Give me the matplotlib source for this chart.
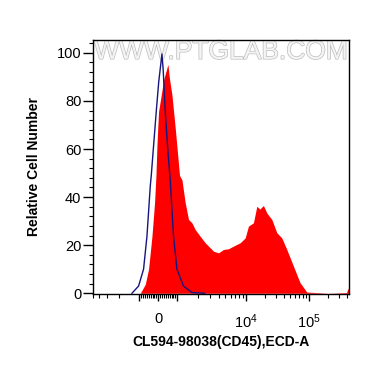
import numpy as np
import matplotlib
matplotlib.use("Agg")
import matplotlib.pyplot as plt
from matplotlib import patheffects

plt.rcParams['font.family'] = ['Liberation Sans', 'DejaVu Sans']
plt.rcParams['mathtext.default'] = 'regular'

# control (isotype) histogram, blue line
ctrl_x = [-1285, -1024, -774, -595, -421, -368, -105, 26, 195, 260, 368, 500,
          632, 805, 984, 1234, 1633, 2500]
ctrl_y = [0, 3, 10, 23.7, 44.5, 49, 75.6, 88, 99.5, 93, 75.6, 60,
          47, 23.7, 10, 3, 0.3, 0]

# CD45 stained sample, red fill
samp_x = [-5000, -947, -684, -511, -332, -195, -121, -68, 16, 158, 289, 511, 579, 721,
          895, 1080, 1170, 1306, 1458, 1633, 1823, 2154, 2546, 3183, 3360, 3970,
          4690, 5540, 6540, 8190, 9680, 10880, 13060, 14790, 16500, 18820, 21310,
          25580, 30700, 36900, 44300, 56400, 71900, 91900, 200000, 395000, 415000,
          430000]
samp_y = [0, 0, 3.7, 10, 23.7, 37.6, 49, 61.7, 75.6, 82.5, 89, 95.2, 90, 82.5,
          68.7, 49, 47.2, 37.6, 30.7, 29.3, 26.5, 23.7, 21, 18.2, 17.5, 16.8,
          18.2, 18.5, 19.6, 21, 23, 27.9, 29.3, 36.2, 35, 36.5, 33.4,
          30.7, 25.2, 23, 18.2, 11.3, 4.4, 0.5, 0, 0.3, 2, 1.5]


# biexponential-like display transform (linear around zero, log above 10^3)
def biex_fwd(x):
    x = np.asarray(x, dtype=float)
    a = np.maximum(np.abs(x), 1000.0)
    lg = np.log10(a / 1000.0)
    pos = 19 + 69 * np.minimum(lg, 1) + 63 * np.maximum(lg - 1, 0)
    neg = -(19 + 67 * lg)
    return np.where(np.abs(x) <= 1000, x * 0.019, np.where(x > 0, pos, neg))


def biex_inv(p):
    p = np.clip(np.asarray(p, dtype=float), -300, 300)
    up = np.where(p <= 88, 1000 * 10 ** ((p - 19) / 69), 1e4 * 10 ** ((p - 88) / 63))
    dn = -1000 * 10 ** ((-p - 19) / 67)
    return np.where(np.abs(p) <= 19, p / 0.019, np.where(p > 0, up, dn))


fig = plt.figure(figsize=(3.7, 3.67), dpi=100)
ax = fig.add_axes([0.25, 0.199, 0.693, 0.693])
ax.set_xscale('function', functions=(biex_fwd, biex_inv))

ax.fill_between(samp_x, samp_y, 0, color='#ff0000', lw=0, zorder=2)
ax.plot(ctrl_x, ctrl_y, color='#16167e', lw=1.0, zorder=3)

ax.text(0.5, 0.952, 'WWW.PTGLAB.COM', transform=ax.transAxes, ha='center',
        va='center', fontsize=19, color='#f4f4f4', zorder=1,
        path_effects=[patheffects.withStroke(linewidth=1.0, foreground='#bdbdbd')])

ax.set_xlim(-5000, 430000)
ax.set_ylim(-0.3, 105.5)

ax.set_xticks([-1000, 0, 1000, 1e4, 1e5])
ax.set_xticklabels(['', '0', '', '$10^4$', '$10^5$'])
minor_x = ([-k * 1000 for k in range(2, 6)] + [k * 100 for k in range(-9, 10) if k != 0]
           + [k * 1000 for k in range(2, 10)] + [k * 10000 for k in range(2, 10)]
           + [k * 100000 for k in range(2, 5)])
ax.set_xticks(minor_x, minor=True)

ax.set_yticks([0, 20, 40, 60, 80, 100])
ax.set_yticks(np.arange(0, 105, 4), minor=True)

ax.tick_params(axis='both', which='major', labelsize=10.5, color='black', width=1)
ax.tick_params(axis='x', which='major', length=5, pad=8)
ax.tick_params(axis='y', which='major', length=7, pad=1)
ax.tick_params(axis='both', which='minor', length=3, width=0.8)

for s in ax.spines.values():
    s.set_linewidth(1.0)

ax.set_xlabel('CL594-98038(CD45),ECD-A', fontsize=10, fontweight='bold', labelpad=3)
ax.set_ylabel('Relative Cell Number', fontsize=10, fontweight='bold', labelpad=11)

fig.savefig('out.png', dpi=100)
